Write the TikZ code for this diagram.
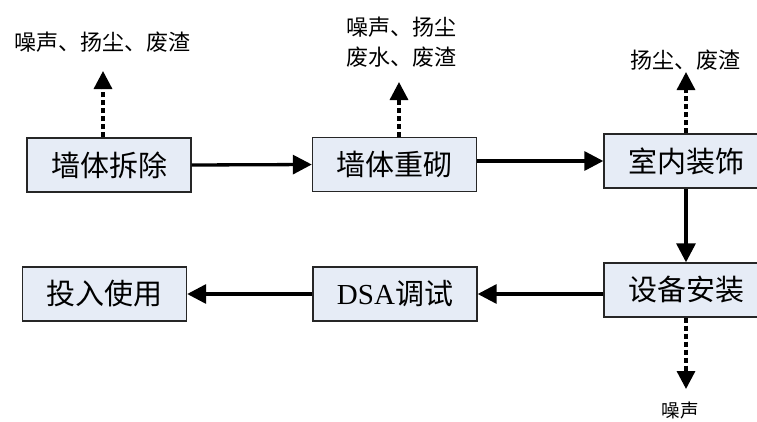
\documentclass[tikz,border=0pt]{standalone}
\usepackage{fontspec}
\setmainfont{Liberation Serif}
\newfontfamily\cjk{Noto Sans CJK SC}
\usetikzlibrary{arrows.meta}
\definecolor{boxfill}{RGB}{230,236,246}
\tikzset{
  procbox/.style={draw=black!85, line width=1.4pt, fill=boxfill, minimum width=164pt, minimum height=54pt, inner sep=0pt, font=\fontsize{29}{32}\selectfont\cjk},
  flow/.style={line width=3.3pt, -{Triangle[length=19pt,width=19pt]}},
  emit/.style={line width=3.3pt, dash pattern=on 5pt off 3pt, -{Triangle[length=18pt,width=18pt]}},
  lbl/.style={inner sep=0pt, align=center, font=\fontsize{22}{30}\selectfont\cjk},
}
\begin{document}
\begin{tikzpicture}[x=1pt,y=-1pt]
\useasboundingbox (0,0) rectangle (757,421);
\clip (0,0) rectangle (757,421);
\fill[white] (0,0) rectangle (757,421);
% process boxes
\node[procbox] (b1) at (109,165) {墙体拆除};
\node[procbox] (b2) at (394.5,164.5) {墙体重砌};
\node[procbox] (b3) at (686,161) {室内装饰};
\node[procbox] (b4) at (686,290) {设备安装};
\node[procbox] (b5) at (395,294) {{\rmfamily DSA}调试};
\node[procbox] (b6) at (104.5,294) {投入使用};
% emission labels
\node[lbl] (l1) at (102,42) {噪声、扬尘、废渣};
\node[lbl] (l2) at (401,42) {噪声、扬尘\\废水、废渣};
\node[lbl] (l3) at (685,60) {扬尘、废渣};
\node[lbl, font=\fontsize{18.5}{20}\selectfont\cjk] (l4) at (680,410) {噪声};
% emission arrow tips
\coordinate (t1) at (103,71);
\coordinate (t2) at (399,82);
\coordinate (t3) at (686,72);
\coordinate (t4) at (686,389);
% flow arrows
\draw[flow] (b1.east) -- (b2.west);
\draw[flow] (b3.west -| b2.east) -- (b3.west);
\draw[flow] (b3.south) -- (b4.north);
\draw[flow] (b5.east -| b4.west) -- (b5.east);
\draw[flow] (b5.west) -- (b6.east);
% emission arrows
\draw[emit] (t1 |- b1.north) -- (t1);
\draw[emit] (t2 |- b2.north) -- (t2);
\draw[emit] (t3 |- b3.north) -- (t3);
\draw[emit] (t4 |- b4.south) -- (t4);
\end{tikzpicture}
\end{document}
